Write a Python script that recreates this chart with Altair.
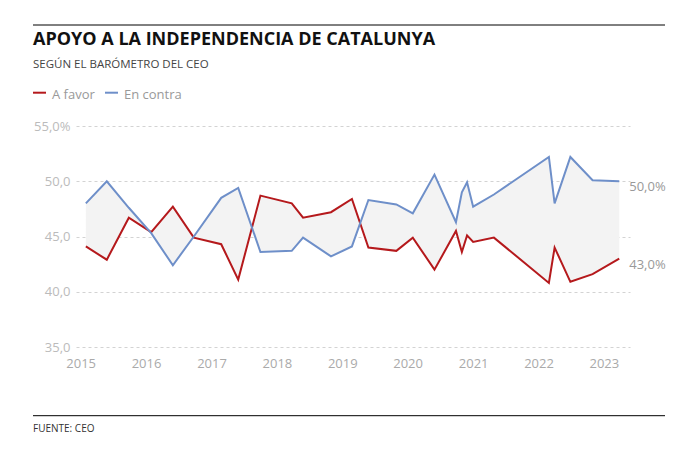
import altair as alt
import pandas as pd

# ---- data ----
fechas = [
    "2015-01-30", "2015-05-27", "2015-09-27", "2016-01-30", "2016-05-30", "2016-09-24",
    "2017-02-24", "2017-05-30", "2017-10-01", "2018-03-25", "2018-05-27", "2018-10-30",
    "2019-02-24", "2019-05-27", "2019-10-30", "2020-01-30", "2020-05-30", "2020-09-27",
    "2020-10-30", "2020-11-28", "2021-01-01", "2021-04-27", "2022-02-28", "2022-04-01",
    "2022-06-28", "2022-10-30", "2023-03-28",
]
a_favor = [44.1, 42.9, 46.7, 45.4, 47.7, 44.9, 44.3, 41.1, 48.7, 48.0, 46.7, 47.2, 48.4,
           44.0, 43.7, 44.9, 42.0, 45.5, 43.6, 45.1, 44.5, 44.9, 40.8, 44.0, 40.9, 41.6, 43.0]
en_contra = [48.0, 50.0, 47.6, 45.3, 42.4, 45.0, 48.5, 49.4, 43.6, 43.7, 44.9, 43.2, 44.1,
             48.3, 47.9, 47.1, 50.6, 46.3, 49.0, 49.9, 47.7, 48.8, 52.2, 48.0, 52.2, 50.1, 50.0]

series = ["A favor", "En contra"]
colores = ["#b5191c", "#6e8fc9"]
anios = [2015, 2016, 2017, 2018, 2019, 2020, 2021, 2022, 2023]
y_ticks = [35, 40, 45, 50, 55]

titulo = "APOYO A LA INDEPENDENCIA DE CATALUNYA"
subtitulo = "SEGÚN EL BARÓMETRO DEL CEO"
fuente = "FUENTE: CEO"

df = pd.DataFrame({"fecha": fechas, "A favor": a_favor, "En contra": en_contra})

FONT = "Open Sans"
W, H = 554, 221

x_scale = alt.Scale(type="utc",
                    domain=[alt.DateTime(year=2014, month=12, date=6, utc=True),
                            alt.DateTime(year=2023, month=5, date=27, utc=True)])
y_scale = alt.Scale(domain=[35, 55], nice=False, zero=False)

x_enc = alt.X("fecha:T", scale=x_scale,
              axis=alt.Axis(values=[alt.DateTime(year=a, month=1, date=1, utc=True) for a in anios],
                            labelExpr="utcFormat(datum.value, '%Y')",
                            grid=False, domain=False, ticks=False,
                            labelColor="#aaaaaa", labelFontSize=13, labelFont=FONT,
                            labelPadding=10, title=None))

base = alt.Chart(df)

area = base.mark_area(color="#f3f3f3", opacity=1).encode(
    x=x_enc,
    y=alt.Y("En contra:Q", scale=y_scale,
            axis=alt.Axis(values=y_ticks, grid=True, gridDash=[3, 3], gridColor="#d3d3d3",
                          domain=False, ticks=False, labelColor="#bbbbbb", labelFontSize=13,
                          labelFont=FONT, labelPadding=6, title=None,
                          labelExpr="datum.value == 55 ? '55,0%' : replace(format(datum.value, '.1f'), '.', ',')")),
    y2="A favor:Q",
)

lines = base.transform_fold(series, as_=["serie", "valor"]).mark_line(strokeWidth=2).encode(
    x="fecha:T",
    y=alt.Y("valor:Q", scale=y_scale),
    color=alt.Color("serie:N", scale=alt.Scale(domain=series, range=colores), legend=None),
)

end_labels = base.transform_fold(series, as_=["serie", "valor"]).transform_window(
    rank="rank()", sort=[alt.SortField("fecha", order="descending")], groupby=["serie"]
).transform_filter("datum.rank == 1").transform_calculate(
    etiqueta="replace(format(datum.valor, '.1f'), '.', ',') + '%'"
).mark_text(align="left", baseline="middle", dx=10, dy=6, fontSize=13, font=FONT,
            color="#999999").encode(
    x="fecha:T", y=alt.Y("valor:Q", scale=y_scale), text="etiqueta:N"
)

# decorative header / footer, placed relative to the plot origin
def txt(text, x, y, size, color, weight="normal"):
    return alt.Chart(pd.DataFrame({"t": [text]})).mark_text(
        align="left", baseline="alphabetic", fontSize=size, font=FONT,
        fontWeight=weight, color=color
    ).encode(x=alt.value(x), y=alt.value(y), text="t:N")

def rule(x1, x2, y, color, width=1):
    return alt.Chart(pd.DataFrame({"a": [0]})).mark_rule(color=color, strokeWidth=width).encode(
        x=alt.value(x1), x2=alt.value(x2), y=alt.value(y))

deco = alt.layer(
    rule(-43, 589, -101, "#000000"),
    txt(titulo, -43, -81, 18, "#111111", "bold"),
    txt(subtitulo, -43, -58.5, 11.5, "#444444"),
    rule(-43, -30, -33.3, colores[0], 2),
    txt(series[0], -24, -27, 13, "#999999"),
    rule(29, 42, -33.3, colores[1], 2),
    txt(series[1], 48, -27, 13, "#999999"),
    rule(-43, 589, 289.7, "#000000"),
    txt(fuente, -43, 306, 10, "#333333"),
)

chart = alt.layer(area, lines, end_labels, deco).properties(
    width=W, height=H,
    autosize=alt.AutoSizeParams(type="none"),
    padding={"left": 68, "top": 118, "right": 49, "bottom": 96},
    background="white",
).configure_view(stroke=None)

chart.save("out.html", embed_options={"renderer": "svg", "actions": False})
